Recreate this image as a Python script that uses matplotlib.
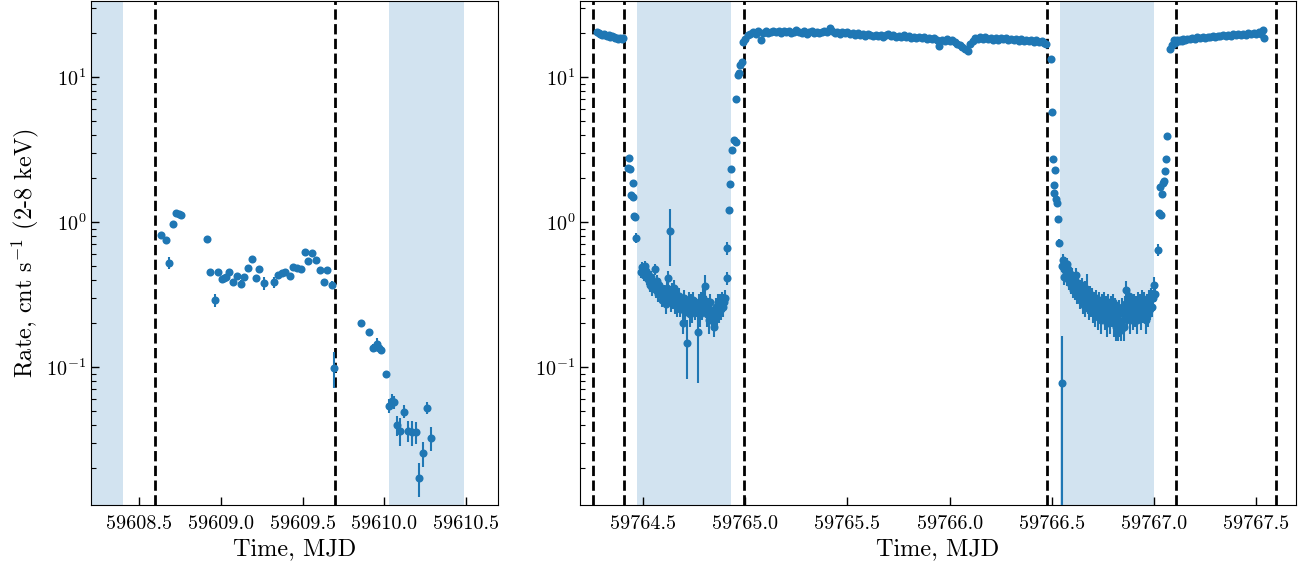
import numpy as np
import matplotlib
matplotlib.use("Agg")
import matplotlib.pyplot as plt

plt.rcParams.update({
    "font.family": "serif",
    "font.serif": ["cmr10"],
    "mathtext.fontset": "cm",
    "axes.formatter.use_mathtext": True,
    "axes.unicode_minus": False,
})

# ---------------- first observation ----------------
t_left = [59608.636, 59608.663, 59608.684, 59608.706, 59608.728, 59608.742, 59608.755,
          59608.914, 59608.936, 59608.961, 59608.983, 59609.006, 59609.020, 59609.032,
          59609.051, 59609.075, 59609.100, 59609.122, 59609.144, 59609.167, 59609.192,
          59609.214, 59609.236, 59609.261, 59609.328, 59609.351, 59609.373, 59609.395,
          59609.420, 59609.442, 59609.467, 59609.491, 59609.513, 59609.536, 59609.559,
          59609.583, 59609.605, 59609.630, 59609.652, 59609.677,
          59609.695, 59609.859, 59609.905, 59609.928, 59609.944, 59609.956, 59609.969,
          59609.979, 59610.008, 59610.031, 59610.047, 59610.059, 59610.076, 59610.097,
          59610.123, 59610.148, 59610.169, 59610.193, 59610.215, 59610.240, 59610.263,
          59610.287]
rate_left = [0.817, 0.751, 0.524, 0.974, 1.159, 1.135, 1.117,
             0.767, 0.450, 0.290, 0.454, 0.403, 0.409, 0.415,
             0.454, 0.386, 0.422, 0.376, 0.415, 0.482, 0.558,
             0.413, 0.476, 0.378, 0.384, 0.429, 0.443, 0.450,
             0.422, 0.487, 0.482, 0.472, 0.621, 0.541, 0.614,
             0.547, 0.464, 0.384, 0.469, 0.369,
             0.099, 0.201, 0.175, 0.135, 0.138, 0.143, 0.135,
             0.130, 0.089, 0.0538, 0.0586, 0.0570, 0.0396, 0.0364,
             0.0492, 0.0363, 0.0355, 0.0355, 0.0172, 0.0254, 0.0524,
             0.0324]
err_left = [0.02, 0.02, 0.05, 0.02, 0.02, 0.02, 0.02,
            0.02, 0.02, 0.03, 0.02, 0.02, 0.02, 0.02,
            0.02, 0.02, 0.02, 0.02, 0.02, 0.02, 0.02,
            0.02, 0.02, 0.04, 0.035, 0.02, 0.02, 0.02,
            0.02, 0.02, 0.02, 0.02, 0.02, 0.02, 0.02,
            0.02, 0.02, 0.02, 0.02, 0.02,
            0.027, 0.008, 0.008, 0.008, 0.008, 0.015, 0.008,
            0.008, 0.005, 0.006, 0.006, 0.006, 0.006, 0.008,
            0.005, 0.006, 0.007, 0.006, 0.0045, 0.005, 0.005,
            0.006]

eclipse_left = [(59607.94, 59608.40), (59610.03, 59610.49)]
marks_left = [59608.599, 59609.698]
xlim_left = (59608.205, 59610.696)
xticks_left = [59608.5, 59609.0, 59609.5, 59610.0, 59610.5]
xticklabels_left = ["59608.5", "59609.0", "59609.5", "59610.0", "59610.5"]

# ---------------- second observation ----------------
t_pre = [59764.276, 59764.283, 59764.291, 59764.299, 59764.307, 59764.315, 59764.323,
         59764.331, 59764.339, 59764.347, 59764.355, 59764.363, 59764.371, 59764.379,
         59764.387, 59764.395, 59764.400]
rate_pre = [20.3, 20.0, 19.8, 19.6, 19.9, 19.5, 19.2, 19.4, 18.8, 19.1, 18.9, 18.5,
            18.7, 18.4, 18.6, 18.3, 18.5]

t_ingress1 = [59764.426, 59764.429, 59764.437, 59764.440, 59764.448, 59764.450,
              59764.456, 59764.460, 59764.465]
rate_ingress1 = [2.34, 2.75, 2.32, 1.53, 1.49, 1.85, 1.10, 1.08, 0.78]

t_low1 = [59764.488, 59764.493, 59764.498, 59764.503, 59764.508, 59764.513, 59764.518,
          59764.523, 59764.527, 59764.532, 59764.540, 59764.545, 59764.549, 59764.559,
          59764.564, 59764.569, 59764.574, 59764.579, 59764.589, 59764.593, 59764.601,
          59764.608, 59764.613, 59764.618, 59764.624, 59764.629, 59764.633, 59764.638,
          59764.642, 59764.647, 59764.652, 59764.657, 59764.662, 59764.667, 59764.672,
          59764.677, 59764.682, 59764.687, 59764.693, 59764.696, 59764.701, 59764.706,
          59764.714, 59764.718, 59764.726, 59764.731, 59764.735, 59764.740, 59764.745,
          59764.753, 59764.760, 59764.768, 59764.775, 59764.780, 59764.784, 59764.789,
          59764.794, 59764.801, 59764.806, 59764.811, 59764.819, 59764.824, 59764.828,
          59764.833, 59764.838, 59764.848, 59764.853, 59764.858, 59764.863, 59764.868,
          59764.873, 59764.877, 59764.882, 59764.887, 59764.892, 59764.897, 59764.902,
          59764.910, 59764.912]
rate_low1 = [0.45, 0.49, 0.47, 0.43, 0.50, 0.46, 0.41,
             0.44, 0.39, 0.37, 0.42, 0.35, 0.38, 0.47,
             0.34, 0.39, 0.32, 0.37, 0.34, 0.29, 0.33,
             0.30, 0.27, 0.35, 0.41, 0.86, 0.32, 0.28,
             0.34, 0.29, 0.35, 0.27, 0.32, 0.26, 0.30,
             0.31, 0.25, 0.28, 0.20, 0.27, 0.30, 0.24,
             0.147, 0.26, 0.29, 0.23, 0.28, 0.24, 0.29,
             0.25, 0.26, 0.175, 0.28, 0.23, 0.29, 0.25,
             0.30, 0.36, 0.27, 0.23, 0.26, 0.21, 0.28,
             0.24, 0.22, 0.19, 0.22, 0.26, 0.23, 0.28,
             0.24, 0.28, 0.25, 0.29, 0.26, 0.28, 0.30,
             0.41, 0.66]
err_low1 = [0.04, 0.04, 0.04, 0.04, 0.04, 0.04, 0.04,
            0.04, 0.04, 0.04, 0.04, 0.04, 0.04, 0.04,
            0.04, 0.04, 0.04, 0.04, 0.04, 0.03, 0.04,
            0.04, 0.04, 0.04, 0.05, 0.36, 0.04, 0.04,
            0.04, 0.04, 0.05, 0.04, 0.04, 0.04, 0.04,
            0.04, 0.03, 0.04, 0.03, 0.04, 0.04, 0.04,
            0.065, 0.04, 0.04, 0.04, 0.04, 0.04, 0.04,
            0.04, 0.04, 0.097, 0.04, 0.04, 0.04, 0.04,
            0.05, 0.07, 0.04, 0.04, 0.04, 0.04, 0.04,
            0.04, 0.04, 0.03, 0.04, 0.04, 0.04, 0.04,
            0.04, 0.04, 0.04, 0.04, 0.04, 0.04, 0.04,
            0.04, 0.07]

t_egress1 = [59764.921, 59764.926, 59764.930, 59764.935, 59764.946, 59764.952,
             59764.956, 59764.962, 59764.969, 59764.975, 59764.984, 59764.989]
rate_egress1 = [1.21, 1.82, 2.32, 3.14, 3.68, 3.55, 7.08, 10.3, 10.7, 12.1, 12.6, 17.5]

t_high = [59765.000, 59765.0125, 59765.025, 59765.0375, 59765.050, 59765.0625, 59765.075,
          59765.0875, 59765.100, 59765.1125, 59765.125, 59765.1375, 59765.150, 59765.1625,
          59765.175, 59765.1875, 59765.200, 59765.2125, 59765.225, 59765.2375, 59765.250,
          59765.2625, 59765.275, 59765.2875, 59765.300, 59765.3125, 59765.325, 59765.3375,
          59765.350, 59765.3625, 59765.375, 59765.3875, 59765.400, 59765.4125, 59765.425,
          59765.4375, 59765.450, 59765.4625, 59765.475, 59765.4875, 59765.500, 59765.5125,
          59765.525, 59765.5375, 59765.550, 59765.5625, 59765.575, 59765.5875, 59765.600,
          59765.6125, 59765.625, 59765.6375, 59765.650, 59765.6625, 59765.675, 59765.6875,
          59765.700, 59765.7125, 59765.725, 59765.7375, 59765.750, 59765.7625, 59765.775,
          59765.7875, 59765.800, 59765.8125, 59765.825, 59765.8375, 59765.850, 59765.8625,
          59765.875, 59765.8875, 59765.900, 59765.9125, 59765.925, 59765.9375, 59765.950,
          59765.9625, 59765.975, 59765.9875, 59766.000, 59766.0125, 59766.025, 59766.0375,
          59766.050, 59766.0625, 59766.075, 59766.0875, 59766.100, 59766.1125, 59766.125,
          59766.1375, 59766.150, 59766.1625, 59766.175, 59766.1875, 59766.200, 59766.2125,
          59766.225, 59766.2375, 59766.250, 59766.2625, 59766.275, 59766.2875, 59766.300,
          59766.3125, 59766.325, 59766.3375, 59766.350, 59766.3625, 59766.375, 59766.3875,
          59766.400, 59766.4125, 59766.425, 59766.4375, 59766.450, 59766.4625, 59766.470]
rate_high = [18.2, 19.4, 19.9, 20.3, 19.8, 20.6, 18.0,
             20.2, 20.7, 20.1, 20.5, 20.9, 20.3, 20.6,
             20.0, 20.8, 20.4, 20.7, 20.2, 20.5, 21.0,
             20.4, 20.1, 20.6, 19.9, 20.3, 20.7, 20.2,
             20.5, 20.0, 20.4, 20.8, 20.3, 21.9, 20.6,
             20.1, 20.4, 19.9, 20.5, 20.0, 20.3, 19.8,
             20.2, 19.6, 20.0, 19.5, 19.9, 19.3, 19.7,
             19.4, 19.1, 19.6, 19.2, 19.5, 19.0, 19.4,
             19.7, 19.1, 19.4, 18.9, 19.3, 19.0, 19.4,
             18.8, 19.1, 18.7, 19.0, 18.5, 18.9, 18.6,
             18.9, 18.4, 18.7, 18.2, 18.5, 17.9, 16.4,
             18.1, 17.7, 18.2, 17.6, 17.9, 17.3, 17.0,
             16.6, 16.2, 15.6, 15.2, 16.9, 17.8, 18.5,
             18.2, 18.8, 18.4, 18.9, 18.3, 18.7, 18.1,
             18.5, 18.0, 18.6, 18.2, 18.7, 18.1, 18.4,
             17.9, 18.3, 17.8, 18.2, 17.7, 18.1, 17.6,
             18.0, 17.5, 17.9, 17.4, 17.7, 17.2, 16.9]

t_ingress2 = [59766.494, 59766.499, 59766.504, 59766.509, 59766.512, 59766.517,
              59766.522, 59766.526, 59766.532, 59766.537, 59766.552]
rate_ingress2 = [13.2, 5.76, 2.70, 1.79, 1.58, 2.27, 1.43, 1.36, 1.05, 0.72, 0.078]
err_ingress2 = [0.2, 0.1, 0.05, 0.04, 0.04, 0.04, 0.04, 0.04, 0.04, 0.04, 0.085]

t_low2 = [59766.548, 59766.555, 59766.558, 59766.561, 59766.564, 59766.568, 59766.572,
          59766.576, 59766.580, 59766.584, 59766.588, 59766.592, 59766.596, 59766.600,
          59766.604, 59766.608, 59766.612, 59766.616, 59766.620, 59766.624, 59766.628,
          59766.632, 59766.636, 59766.640, 59766.644, 59766.648, 59766.652, 59766.656,
          59766.660, 59766.664, 59766.668, 59766.672, 59766.676, 59766.680, 59766.684,
          59766.688, 59766.692, 59766.696, 59766.700, 59766.705, 59766.710, 59766.715,
          59766.720, 59766.725, 59766.730, 59766.735, 59766.740, 59766.745, 59766.750,
          59766.755, 59766.760, 59766.765, 59766.770, 59766.775, 59766.780, 59766.785,
          59766.790, 59766.795, 59766.800, 59766.805, 59766.810, 59766.815, 59766.820,
          59766.825, 59766.830, 59766.835, 59766.840, 59766.845, 59766.850, 59766.855,
          59766.860, 59766.865, 59766.870, 59766.875, 59766.880, 59766.885, 59766.890,
          59766.895, 59766.900, 59766.905, 59766.910, 59766.915, 59766.920, 59766.925,
          59766.930, 59766.935, 59766.940, 59766.945, 59766.950, 59766.955, 59766.960,
          59766.965, 59766.970, 59766.975, 59766.980, 59766.985, 59766.990, 59766.995,
          59767.000, 59767.004]
rate_low2 = [0.50, 0.55, 0.47, 0.42, 0.52, 0.45, 0.51,
             0.41, 0.47, 0.39, 0.44, 0.37, 0.41, 0.43,
             0.34, 0.40, 0.33, 0.43, 0.35, 0.31, 0.38,
             0.32, 0.29, 0.36, 0.30, 0.37, 0.27, 0.33,
             0.35, 0.26, 0.33, 0.34, 0.27, 0.32, 0.25,
             0.32, 0.26, 0.31, 0.24, 0.29, 0.23, 0.30,
             0.26, 0.22, 0.29, 0.25, 0.21, 0.28, 0.24,
             0.29, 0.22, 0.27, 0.20, 0.28, 0.24, 0.21,
             0.27, 0.23, 0.28, 0.20, 0.26, 0.19, 0.24,
             0.19, 0.25, 0.20, 0.18, 0.26, 0.21, 0.19,
             0.27, 0.34, 0.23, 0.28, 0.31, 0.21, 0.26,
             0.22, 0.28, 0.23, 0.27, 0.21, 0.29, 0.24,
             0.28, 0.22, 0.30, 0.24, 0.29, 0.25, 0.21,
             0.28, 0.23, 0.30, 0.25, 0.31, 0.26, 0.30,
             0.37, 0.32]
err_low2 = [0.05, 0.05, 0.05, 0.05, 0.05, 0.05, 0.05,
            0.05, 0.05, 0.05, 0.05, 0.05, 0.04, 0.05,
            0.04, 0.05, 0.04, 0.05, 0.04, 0.04, 0.04,
            0.04, 0.04, 0.04, 0.04, 0.04, 0.04, 0.04,
            0.04, 0.04, 0.04, 0.10, 0.04, 0.04, 0.04,
            0.04, 0.04, 0.04, 0.04, 0.04, 0.04, 0.04,
            0.04, 0.04, 0.04, 0.04, 0.04, 0.04, 0.04,
            0.04, 0.04, 0.04, 0.04, 0.04, 0.04, 0.04,
            0.04, 0.04, 0.04, 0.04, 0.04, 0.04, 0.04,
            0.04, 0.04, 0.04, 0.03, 0.04, 0.04, 0.04,
            0.04, 0.05, 0.04, 0.04, 0.04, 0.04, 0.04,
            0.04, 0.04, 0.04, 0.04, 0.04, 0.04, 0.04,
            0.04, 0.04, 0.04, 0.04, 0.04, 0.04, 0.04,
            0.04, 0.04, 0.04, 0.04, 0.04, 0.04, 0.04,
            0.05, 0.04]

t_egress2 = [59767.020, 59767.023, 59767.031, 59767.035, 59767.040, 59767.044, 59767.049,
             59767.052, 59767.057, 59767.066, 59767.080, 59767.089, 59767.098]
rate_egress2 = [0.64, 1.15, 1.73, 1.12, 1.55, 1.87, 1.92, 2.26, 2.70, 3.94, 15.5, 16.6, 17.9]

t_post = [59767.105, 59767.1125, 59767.120, 59767.1275, 59767.135, 59767.1425, 59767.150,
          59767.1625, 59767.175, 59767.1875, 59767.200, 59767.2125, 59767.225, 59767.2375,
          59767.250, 59767.2625, 59767.275, 59767.2875, 59767.300, 59767.3125, 59767.325,
          59767.3375, 59767.350, 59767.3625, 59767.375, 59767.3875, 59767.400, 59767.4125,
          59767.425, 59767.4375, 59767.450, 59767.4625, 59767.475, 59767.4875, 59767.500,
          59767.5125, 59767.525, 59767.5325, 59767.537]
rate_post = [17.2, 17.9, 17.6, 18.1, 17.8, 18.2, 17.9,
             18.4, 18.2, 18.6, 18.4, 18.8, 18.5, 19.0,
             18.7, 19.0, 18.9, 19.3, 19.0, 19.3, 19.1,
             19.5, 19.2, 19.6, 19.3, 19.7, 19.4, 19.8,
             19.5, 19.9, 19.6, 20.0, 19.7, 20.1, 19.8,
             20.3, 19.9, 21.2, 18.5]

eclipse_right = [(59764.47, 59764.93), (59766.54, 59767.00)]
marks_right = [59764.255, 59764.404, 59764.995, 59766.476, 59767.106, 59767.599]
xlim_right = (59764.191, 59767.695)
xticks_right = [59764.5, 59765.0, 59765.5, 59766.0, 59766.5, 59767.0, 59767.5]
xticklabels_right = ["59764.5", "59765.0", "59765.5", "59766.0", "59766.5", "59767.0", "59767.5"]

ylim = (0.01116, 33.4)
bright_err = 0.3      # 1-sigma on the out-of-eclipse bins
transition_err = 0.06

# ---------------- drawing ----------------
W, H = 13.07, 5.65
fig = plt.figure(figsize=(W, H), dpi=100)
ax1 = fig.add_axes([91 / 1307, 60 / 565, 407 / 1307, 504 / 565])
ax2 = fig.add_axes([580 / 1307, 60 / 565, 716 / 1307, 504 / 565])

pt = dict(fmt="o", ms=5.8, color="C0", ecolor="C0", elinewidth=1.5,
          capsize=0, mew=0, zorder=3)


def style(ax, xlim, ticks, labels, eclipses, marks):
    for a, b in eclipses:
        ax.axvspan(a, b, color="C0", alpha=0.2, lw=0, zorder=0)
    for m in marks:
        ax.axvline(m, color="k", ls="--", lw=2, zorder=2)
    ax.set_yscale("log")
    ax.set_ylim(*ylim)
    ax.set_xlim(*xlim)
    ax.set_xticks(ticks)
    ax.set_xticklabels(labels)
    ax.tick_params(which="both", direction="in", labelsize=14.5, top=False, right=False)
    ax.tick_params(which="major", length=6, width=1)
    ax.tick_params(which="minor", length=3.5, width=0.8)
    ax.tick_params(axis="x", pad=7)
    ax.set_xlabel("Time, MJD", fontsize=17.5)


style(ax1, xlim_left, xticks_left, xticklabels_left, eclipse_left, marks_left)
style(ax2, xlim_right, xticks_right, xticklabels_right, eclipse_right, marks_right)

ax1.errorbar(t_left, rate_left, yerr=err_left, **pt)
ax1.set_ylabel("Rate, cnt s$^{-1}$ (2-8 keV)", fontsize=17.5)

ax2.errorbar(t_pre, rate_pre, yerr=bright_err, **pt)
ax2.errorbar(t_ingress1, rate_ingress1, yerr=transition_err, **pt)
ax2.errorbar(t_low1, rate_low1, yerr=err_low1, **pt)
ax2.errorbar(t_egress1, rate_egress1, yerr=transition_err, **pt)
ax2.errorbar(t_high, rate_high, yerr=bright_err, **pt)
ax2.errorbar(t_ingress2, rate_ingress2, yerr=err_ingress2, **pt)
ax2.errorbar(t_low2, rate_low2, yerr=err_low2, **pt)
ax2.errorbar(t_egress2, rate_egress2, yerr=transition_err, **pt)
ax2.errorbar(t_post, rate_post, yerr=bright_err, **pt)

fig.savefig("out.png", dpi=100)
